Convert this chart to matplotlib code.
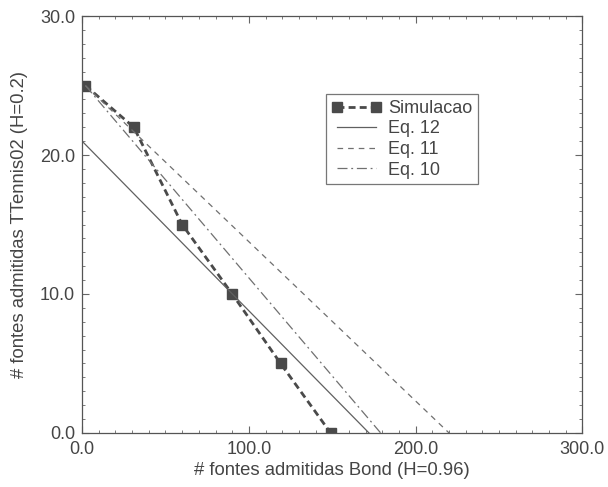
import matplotlib.pyplot as plt
from matplotlib.ticker import MultipleLocator

# Simulated points
sim_x = [2, 31, 60, 90, 119, 149]
sim_y = [25, 22, 15, 10, 5, 0]

# Analytical lines (endpoints)
eq12_x = [0, 172]
eq12_y = [21, 0]
eq11_x = [2, 220]
eq11_y = [25, 0]
eq10_x = [2, 179]
eq10_y = [25, 0]

plt.rcParams['font.family'] = ['Liberation Sans', 'DejaVu Sans']
txt = '#454545'
fs = 13

fig = plt.figure(figsize=(6.08, 4.87), dpi=100)
ax = fig.add_axes([0.135, 0.111, 0.823, 0.856])

ax.plot(sim_x, sim_y, color='#4a4a4a', linestyle=(0, (2.5, 1.5)), linewidth=2.0,
        marker='s', markersize=6.5, markerfacecolor='#4a4a4a', markeredgecolor='#4a4a4a',
        label='Simulacao')
ax.plot(eq12_x, eq12_y, color='#606060', linewidth=0.9, label='Eq. 12')
ax.plot(eq11_x, eq11_y, color='#707070', linewidth=0.9, linestyle=(0, (4.5, 4)), label='Eq. 11')
ax.plot(eq10_x, eq10_y, color='#707070', linewidth=0.9, linestyle=(0, (8, 3, 1.5, 3)), label='Eq. 10')

ax.set_xlim(0, 300)
ax.set_ylim(0, 30)
ax.xaxis.set_major_locator(MultipleLocator(100))
ax.xaxis.set_minor_locator(MultipleLocator(10))
ax.yaxis.set_major_locator(MultipleLocator(10))
ax.yaxis.set_minor_locator(MultipleLocator(1))
ax.xaxis.set_major_formatter(lambda v, p: f'{v:.1f}')
ax.yaxis.set_major_formatter(lambda v, p: f'{v:.1f}')
ax.tick_params(which='both', direction='in', top=True, right=True, colors='#666666',
               labelcolor=txt, labelsize=fs)
ax.tick_params(which='major', length=5)
ax.tick_params(which='minor', length=2.5)
ax.tick_params(axis='x', pad=6)
ax.tick_params(axis='y', pad=5)
for s in ax.spines.values():
    s.set_color('#555555')
    s.set_linewidth(0.9)

ax.set_xlabel('# fontes admitidas Bond (H=0.96)', color=txt, fontsize=13.3, labelpad=3)
ax.set_ylabel('# fontes admitidas TTennis02 (H=0.2)', color=txt, fontsize=13.3, labelpad=9)

leg = ax.legend(loc='upper left', bbox_to_anchor=(0.487, 0.812), frameon=True, fancybox=False,
                edgecolor='#555555', fontsize=fs, handlelength=2.8, borderpad=0.3,
                labelspacing=0.2, handletextpad=0.35, borderaxespad=0, numpoints=2)
leg.get_frame().set_linewidth(0.9)
for t in leg.get_texts():
    t.set_color(txt)

fig.savefig('out.png', dpi=100)
